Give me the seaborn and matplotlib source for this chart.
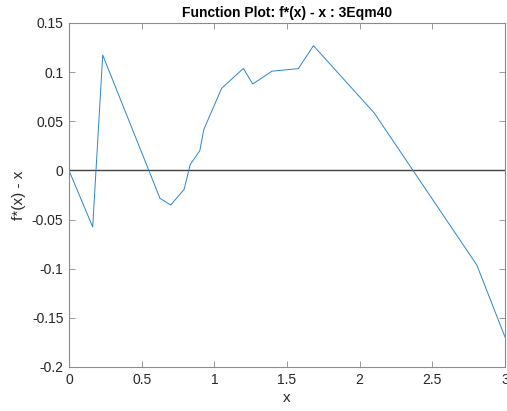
import matplotlib
matplotlib.use("Agg")
import matplotlib.pyplot as plt
import seaborn as sns
import pandas as pd

# Sample points of f*(x) - x
x_vals = [0.0, 0.163, 0.232, 0.626, 0.70, 0.792, 0.834, 0.90, 0.928, 1.05,
          1.20, 1.264, 1.397, 1.578, 1.682, 2.10, 2.806, 3.0]
y_vals = [0.0, -0.0575, 0.1174, -0.0284, -0.0352, -0.0193, 0.0060, 0.0200, 0.0418, 0.0835,
          0.1038, 0.0879, 0.1010, 0.1036, 0.1269, 0.0585, -0.0962, -0.1695]

x_ticks = [0, 0.5, 1, 1.5, 2, 2.5, 3]
x_tick_labels = ["0", "0.5", "1", "1.5", "2", "2.5", "3"]
y_ticks = [-0.2, -0.15, -0.1, -0.05, 0, 0.05, 0.1, 0.15]
y_tick_labels = ["-0.2", "-0.15", "-0.1", "-0.05", "0", "0.05", "0.1", "0.15"]

sns.set_style("white")
plt.rcParams["font.family"] = ["Liberation Sans", "DejaVu Sans"]

df = pd.DataFrame({"x": x_vals, "y": y_vals})

fig = plt.figure(figsize=(5.07, 4.11), dpi=100)
ax = fig.add_axes([69 / 507, 44 / 411, 436 / 507, 344 / 411])

ax.axhline(0, color="#404040", linewidth=1.0, zorder=1)
sns.lineplot(data=df, x="x", y="y", ax=ax, color="#2A86CC", linewidth=0.7,
             estimator=None, sort=False, zorder=2)

ax.set_xlim(0, 3)
ax.set_ylim(-0.2, 0.15)
ax.set_xticks(x_ticks)
ax.set_xticklabels(x_tick_labels)
ax.set_yticks(y_ticks)
ax.set_yticklabels(y_tick_labels)

gray = "#262626"
for s in ax.spines.values():
    s.set_visible(True)
    s.set_color("#8a8a8a")
    s.set_linewidth(0.8)
ax.tick_params(direction="in", length=4, width=0.6, color="#8a8a8a",
               labelsize=10, labelcolor=gray, top=True, right=True,
               bottom=True, left=True, pad=4)

ax.set_xlabel("x", fontsize=11, color=gray, labelpad=3)
ax.set_ylabel("f*(x) - x", fontsize=11, color=gray, labelpad=4)
ax.set_title("Function Plot: f*(x) - x : 3Eqm40", fontsize=10, fontweight="bold",
             color="black", pad=4)

fig.savefig("out.png", dpi=100)
